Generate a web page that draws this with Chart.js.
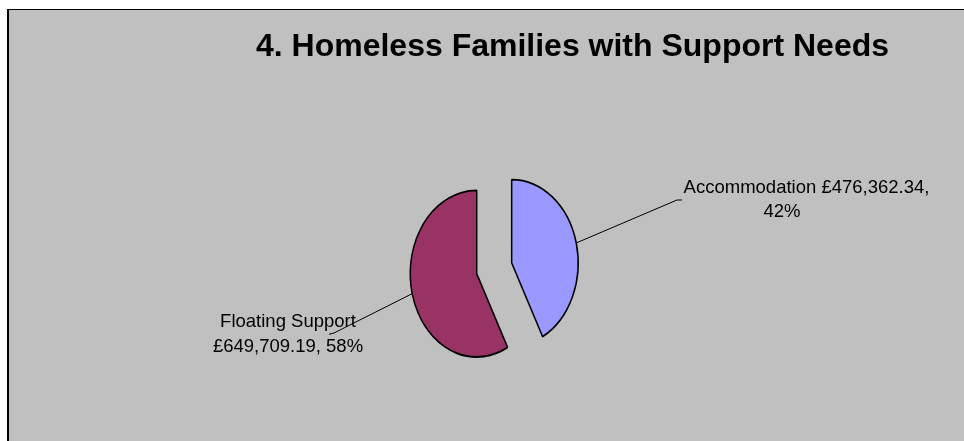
<!DOCTYPE html>
<html>
<head>
<meta charset="utf-8">
<title>4. Homeless Families with Support Needs</title>
<script src="https://cdn.jsdelivr.net/npm/chart.js@4/dist/chart.umd.min.js"></script>
<style>
  html, body { margin: 0; padding: 0; background: #ffffff; }
  body { width: 964px; height: 441px; position: relative; overflow: hidden; }
  #frame {
    position: absolute; left: 7px; top: 9px; width: 980px; height: 460px;
    background: #C0C0C0; border-left: 2px solid #000; border-top: 1px solid #000;
  }
  #wrap { position: absolute; left: 0; top: 0; width: 964px; height: 441px; }
</style>
</head>
<body>
<div id="frame"></div>
<div id="wrap"><canvas id="chart" width="964" height="441"></canvas></div>
<script>
// Funding split for the homeless families programme
const chartTitle = '4. Homeless Families with Support Needs';
const categories = ['Accommodation', 'Floating Support'];
const amounts = [476362.34, 649709.19];
const sliceColors = ['#9999FF', '#993366'];

const FONT = '"Liberation Sans", Arial, Helvetica, sans-serif';
const ASPECT = 83.3 / 66.5;   // vertical stretch of the pie
const EXPLODE = 18;           // distance each slice is pulled out

// Label placement relative to the pie centre
const labelLayout = [
  { leader: [[182.8, -68.3], [187.8, -68.3]], lines: [[312.3, -75.6], [287.8, -51.6]] },
  { leader: [[-160.2, 64.7], [-165.2, 66.0]], lines: [[-206.2, 59.0], [-206.2, 83.4]] }
];

function money(v) {
  const parts = v.toFixed(2).split('.');
  parts[0] = parts[0].replace(/\B(?=(\d{3})+(?!\d))/g, ',');
  return '£' + parts.join('.');
}

const total = amounts.reduce((a, b) => a + b, 0);

function labelLines(i) {
  const pct = Math.round(amounts[i] / total * 100) + '%';
  const words = (categories[i] + ' ' + money(amounts[i]) + ', ' + pct).split(' ');
  return [words.slice(0, 2).join(' '), words.slice(2).join(' ')];
}

function withEllipse(ctx, cx, cy, fn) {
  ctx.save();
  ctx.translate(cx, cy);
  ctx.scale(1, ASPECT);
  ctx.translate(-cx, -cy);
  fn();
  ctx.restore();
}

const explodedPie = {
  id: 'explodedPie',
  beforeDatasetDraw(chart, args) {
    const ctx = chart.ctx;
    const arcs = args.meta.data;
    if (!arcs.length) return false;
    const cx = arcs[0].x, cy = arcs[0].y;
    withEllipse(ctx, cx, cy, () => {
      arcs.forEach(arc => {
        const h = (arc.startAngle + arc.endAngle) / 2;
        ctx.save();
        ctx.translate(Math.cos(h) * EXPLODE, Math.sin(h) * EXPLODE);
        arc.draw(ctx);
        ctx.restore();
      });
    });
    return false;
  },
  afterDatasetsDraw(chart) {
    const ctx = chart.ctx;
    const arcs = chart.getDatasetMeta(0).data;
    const cx = arcs[0].x, cy = arcs[0].y;
    ctx.save();
    arcs.forEach((arc, i) => {
      const h = (arc.startAngle + arc.endAngle) / 2;
      const r = arc.outerRadius + EXPLODE;
      const ex = cx + Math.cos(h) * r;
      const ey = cy + Math.sin(h) * r * ASPECT;
      const lay = labelLayout[i];
      ctx.beginPath();
      ctx.moveTo(ex, ey);
      lay.leader.forEach(p => ctx.lineTo(cx + p[0], cy + p[1]));
      ctx.strokeStyle = '#000';
      ctx.lineWidth = 1;
      ctx.stroke();

      ctx.fillStyle = '#000';
      ctx.font = '18.5px ' + FONT;
      ctx.textAlign = 'center';
      ctx.textBaseline = 'alphabetic';
      labelLines(i).forEach((t, j) => {
        ctx.fillText(t, cx + lay.lines[j][0], cy + lay.lines[j][1]);
      });
    });
    ctx.font = 'bold 32px ' + FONT;
    ctx.textAlign = 'center';
    ctx.fillStyle = '#000';
    ctx.fillText(chartTitle, 572.5, 56);
    ctx.restore();
  }
};

new Chart(document.getElementById('chart'), {
  type: 'pie',
  data: {
    labels: categories,
    datasets: [{
      data: amounts,
      backgroundColor: sliceColors,
      borderColor: '#000000',
      borderWidth: 1.5,
      radius: 66.5
    }]
  },
  options: {
    responsive: false,
    animation: false,
    events: [],
    layout: { padding: { left: 124.4, right: 100, top: 135.6, bottom: 40 } },
    plugins: {
      legend: { display: false },
      title: { display: false },
      tooltip: { enabled: false }
    }
  },
  plugins: [explodedPie]
});
</script>
</body>
</html>
